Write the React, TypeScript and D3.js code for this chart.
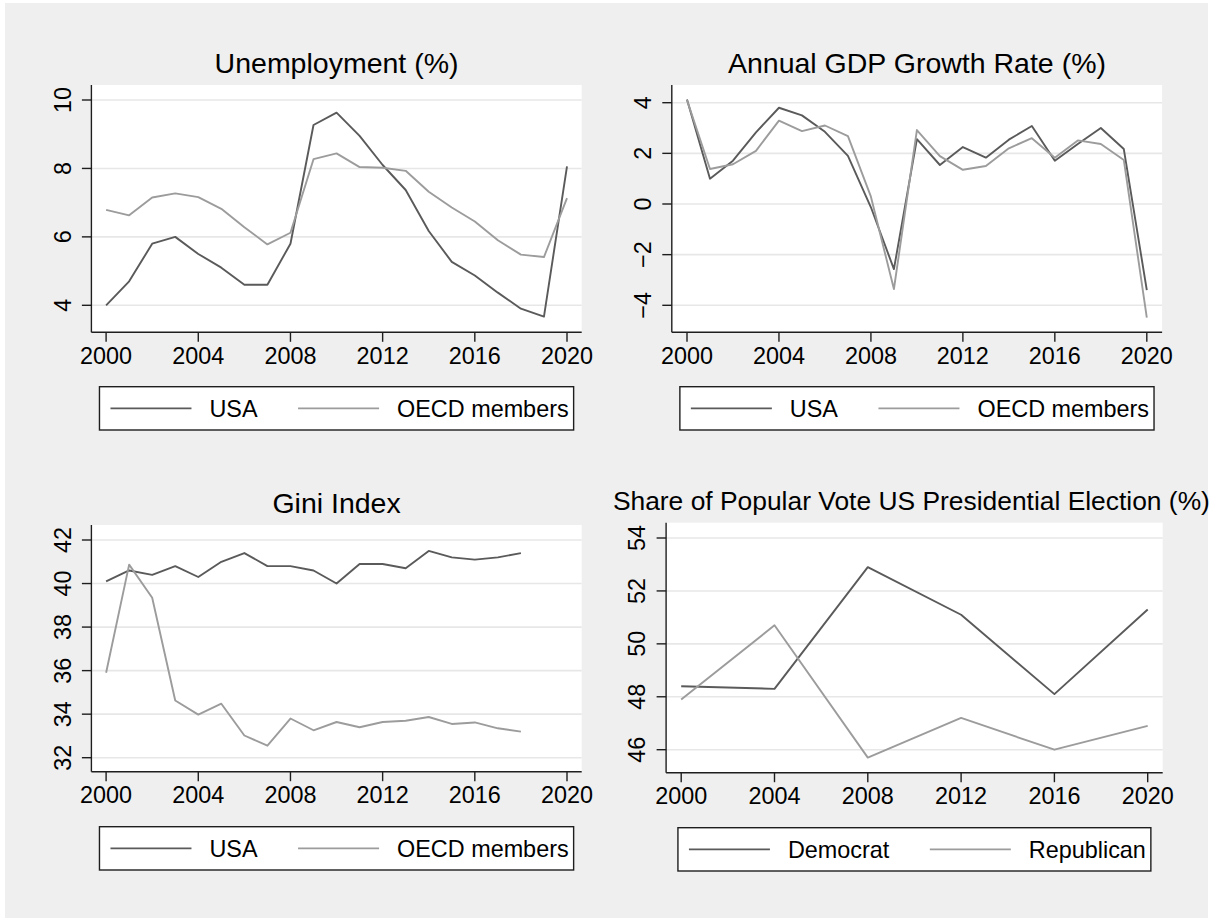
import React from "react";
import * as d3 from "d3";

// ---- data ----
const annualYears = [2000, 2001, 2002, 2003, 2004, 2005, 2006, 2007, 2008, 2009, 2010, 2011, 2012, 2013, 2014, 2015, 2016, 2017, 2018, 2019, 2020];
const unemploymentUSA = [4.0, 4.7, 5.8, 6.0, 5.5, 5.1, 4.6, 4.6, 5.8, 9.27, 9.63, 8.95, 8.1, 7.37, 6.17, 5.27, 4.87, 4.37, 3.9, 3.67, 8.06];
const unemploymentOECD = [6.79, 6.63, 7.15, 7.27, 7.16, 6.82, 6.28, 5.78, 6.12, 8.27, 8.44, 8.04, 8.02, 7.93, 7.32, 6.86, 6.45, 5.9, 5.48, 5.41, 7.13];

const gdpUSA = [4.13, 1.0, 1.71, 2.83, 3.8, 3.5, 2.85, 1.9, -0.13, -2.57, 2.56, 1.54, 2.25, 1.83, 2.54, 3.08, 1.71, 2.37, 3.0, 2.17, -3.4];
const gdpOECD = [4.1, 1.38, 1.57, 2.1, 3.29, 2.88, 3.1, 2.68, 0.29, -3.36, 2.92, 1.89, 1.35, 1.5, 2.2, 2.6, 1.83, 2.51, 2.37, 1.74, -4.49];

const giniYears = [2000, 2001, 2002, 2003, 2004, 2005, 2006, 2007, 2008, 2009, 2010, 2011, 2012, 2013, 2014, 2015, 2016, 2017, 2018];
const giniUSA = [40.1, 40.6, 40.4, 40.8, 40.3, 41.0, 41.4, 40.8, 40.8, 40.6, 40.0, 40.9, 40.9, 40.7, 41.5, 41.2, 41.1, 41.2, 41.4];
const giniOECD = [35.9, 40.87, 39.35, 34.63, 33.98, 34.48, 33.02, 32.55, 33.8, 33.26, 33.64, 33.4, 33.64, 33.7, 33.87, 33.55, 33.62, 33.35, 33.2];

const electionYears = [2000, 2004, 2008, 2012, 2016, 2020];
const voteDemocrat = [48.4, 48.3, 52.9, 51.1, 48.1, 51.3];
const voteRepublican = [47.9, 50.7, 45.7, 47.2, 46.0, 46.9];

const xTicks = [2000, 2004, 2008, 2012, 2016, 2020];
const unemploymentTicks = [4, 6, 8, 10];
const gdpTicks = [-4, -2, 0, 2, 4];
const giniTicks = [32, 34, 36, 38, 40, 42];
const voteTicks = [46, 48, 50, 52, 54];

// ---- styling ----
const FONT = "'Liberation Sans', Arial, Helvetica, sans-serif";
const TICK_SIZE = 23.4;
const TITLE_SIZE = 28.5;
const DARK = "#5a5a5a";
const LIGHT = "#9c9c9c";
const AXIS = "#1e1e1e";
const GRID = "#e7e7e7";
const SERIES_W = 1.9;

type Series = { name: string; years: number[]; values: number[]; color: string };
type Panel = {
  title: string;
  titleSize: number;
  titleDx: number;
  left: number; right: number; top: number; bottom: number;
  x2000: number; x2020: number;
  yTicks: number[]; yLowPx: number; yHighPx: number;
  series: Series[];
  legendTop: number; legendBottom: number;
};

const panels: Panel[] = [
  {
    title: "Unemployment (%)",
    titleSize: TITLE_SIZE, titleDx: 0,
    left: 91.4, right: 581.7, top: 85, bottom: 332.3,
    x2000: 106.1, x2020: 567,
    yTicks: unemploymentTicks, yLowPx: 305.3, yHighPx: 100,
    series: [
      { name: "USA", years: annualYears, values: unemploymentUSA, color: DARK },
      { name: "OECD members", years: annualYears, values: unemploymentOECD, color: LIGHT },
    ],
    legendTop: 386.7, legendBottom: 430,
  },
  {
    title: "Annual GDP Growth Rate (%)",
    titleSize: TITLE_SIZE, titleDx: 0,
    left: 671.8, right: 1162.1, top: 85, bottom: 332.3,
    x2000: 687, x2020: 1146.8,
    yTicks: gdpTicks, yLowPx: 305.3, yHighPx: 102.7,
    series: [
      { name: "USA", years: annualYears, values: gdpUSA, color: DARK },
      { name: "OECD members", years: annualYears, values: gdpOECD, color: LIGHT },
    ],
    legendTop: 386.7, legendBottom: 430,
  },
  {
    title: "Gini Index",
    titleSize: TITLE_SIZE, titleDx: 0,
    left: 91.4, right: 581.7, top: 525, bottom: 771.7,
    x2000: 106.1, x2020: 567,
    yTicks: giniTicks, yLowPx: 757.7, yHighPx: 540,
    series: [
      { name: "USA", years: giniYears, values: giniUSA, color: DARK },
      { name: "OECD members", years: giniYears, values: giniOECD, color: LIGHT },
    ],
    legendTop: 826.7, legendBottom: 870,
  },
  {
    title: "Share of Popular Vote US Presidential Election (%)",
    titleSize: 26.4, titleDx: -3,
    left: 666.1, right: 1162.7, top: 522.7, bottom: 772.7,
    x2000: 681.2, x2020: 1147.7,
    yTicks: voteTicks, yLowPx: 749.7, yHighPx: 538,
    series: [
      { name: "Democrat", years: electionYears, values: voteDemocrat, color: DARK },
      { name: "Republican", years: electionYears, values: voteRepublican, color: LIGHT },
    ],
    legendTop: 827.7, legendBottom: 871,
  },
];

let measureCtx: CanvasRenderingContext2D | null = null;
function textWidth(s: string, size: number): number {
  if (!measureCtx) measureCtx = document.createElement("canvas").getContext("2d");
  if (!measureCtx) return s.length * size * 0.55;
  measureCtx.font = `${size}px 'Liberation Sans', Arial, sans-serif`;
  return measureCtx.measureText(s).width;
}

const fmt = (v: number) => (v < 0 ? "\u2212" + Math.abs(v) : String(v));

function PanelView({ p }: { p: Panel }) {
  const x = d3.scaleLinear().domain([2000, 2020]).range([p.x2000, p.x2020]);
  const y = d3
    .scaleLinear()
    .domain([p.yTicks[0], p.yTicks[p.yTicks.length - 1]])
    .range([p.yLowPx, p.yHighPx]);
  const line = d3
    .line<[number, number]>()
    .x((d) => x(d[0]))
    .y((d) => y(d[1]));

  const tickLen = 9.5;
  const cx = (p.left + p.right) / 2;

  // legend: two keys side by side, boxed and centred under the plot
  const keyLen = 81;
  const padL = 11;
  const keyGap = 18;
  const colGap = 40.5;
  const padR = 5;
  const w1 = textWidth(p.series[0].name, TICK_SIZE);
  const w2 = textWidth(p.series[1].name, TICK_SIZE);
  const boxW = padL + keyLen + keyGap + w1 + colGap + keyLen + keyGap + w2 + padR;
  const boxL = cx - boxW / 2;
  const midY = (p.legendTop + p.legendBottom) / 2;
  const col2 = boxL + padL + keyLen + keyGap + w1 + colGap;

  return (
    <g>
      <rect x={p.left} y={p.top} width={p.right - p.left} height={p.bottom - p.top} fill="#ffffff" />
      {p.yTicks.map((t) => (
        <line key={"g" + t} x1={p.left} x2={p.right} y1={y(t)} y2={y(t)} stroke={GRID} strokeWidth={1.6} />
      ))}
      {p.series.map((s) => (
        <path
          key={s.name}
          d={line(s.years.map((yr, i) => [yr, s.values[i]] as [number, number])) || ""}
          fill="none"
          stroke={s.color}
          strokeWidth={SERIES_W}
          strokeLinejoin="round"
        />
      ))}
      {/* axes */}
      <line x1={p.left} x2={p.left} y1={p.top} y2={p.bottom} stroke={AXIS} strokeWidth={1.4} />
      <line x1={p.left} x2={p.right} y1={p.bottom} y2={p.bottom} stroke={AXIS} strokeWidth={1.4} />
      {p.yTicks.map((t) => (
        <g key={"yt" + t}>
          <line x1={p.left - tickLen} x2={p.left} y1={y(t)} y2={y(t)} stroke={AXIS} strokeWidth={1.4} />
          <text
            transform={`translate(${p.left - tickLen - 11.3},${y(t)}) rotate(-90)`}
            textAnchor="middle"
            fontSize={TICK_SIZE}
            fontFamily={FONT}
            fill="#000"
          >
            {fmt(t)}
          </text>
        </g>
      ))}
      {xTicks.map((t) => (
        <g key={"xt" + t}>
          <line x1={x(t)} x2={x(t)} y1={p.bottom} y2={p.bottom + tickLen} stroke={AXIS} strokeWidth={1.4} />
          <text x={x(t)} y={p.bottom + 31.7} textAnchor="middle" fontSize={TICK_SIZE} fontFamily={FONT} fill="#000">
            {t}
          </text>
        </g>
      ))}
      <text x={cx + p.titleDx} y={p.top - 12.3} textAnchor="middle" fontSize={p.titleSize} fontFamily={FONT} fill="#000">
        {p.title}
      </text>
      {/* legend */}
      <rect
        x={boxL}
        y={p.legendTop}
        width={boxW}
        height={p.legendBottom - p.legendTop}
        fill="#ffffff"
        stroke={AXIS}
        strokeWidth={1.4}
      />
      <line x1={boxL + padL} x2={boxL + padL + keyLen} y1={midY} y2={midY} stroke={p.series[0].color} strokeWidth={SERIES_W} />
      <text x={boxL + padL + keyLen + keyGap} y={midY + 8.4} fontSize={TICK_SIZE} fontFamily={FONT} fill="#000">
        {p.series[0].name}
      </text>
      <line x1={col2} x2={col2 + keyLen} y1={midY} y2={midY} stroke={p.series[1].color} strokeWidth={SERIES_W} />
      <text x={col2 + keyLen + keyGap} y={midY + 8.4} fontSize={TICK_SIZE} fontFamily={FONT} fill="#000">
        {p.series[1].name}
      </text>
    </g>
  );
}

export default function App() {
  return (
    <div style={{ position: "absolute", left: 0, top: 0 }}>
      <svg width={1220} height={919} style={{ display: "block", background: "#ffffff" }}>
        <rect x={5} y={3} width={1203} height={915} fill="#efefef" />
        {panels.map((p) => (
          <PanelView key={p.title} p={p} />
        ))}
      </svg>
    </div>
  );
}
